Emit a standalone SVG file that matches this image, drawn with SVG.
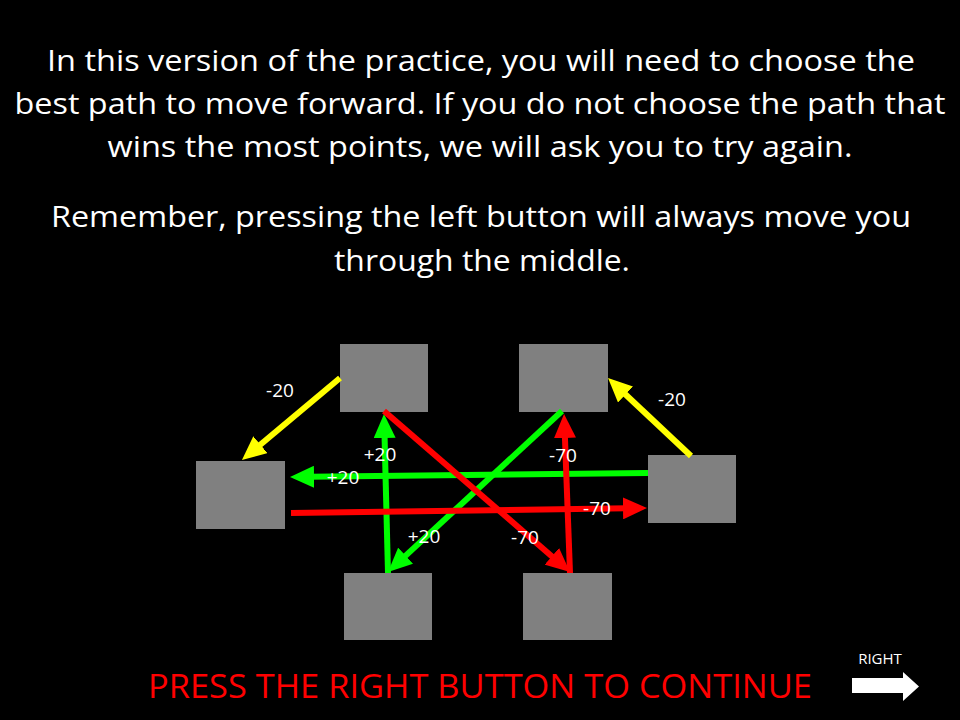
<svg xmlns="http://www.w3.org/2000/svg" width="960" height="720" viewBox="0 0 960 720">
<defs>
<style>
.h{font-family:"Open Sans","Liberation Sans",sans-serif;font-size:30px;fill:#fff;text-anchor:middle}
.lbl{font-family:"Open Sans","Liberation Sans",sans-serif;font-size:19px;fill:#fff;text-anchor:middle}
.box{fill:#808080}
.c{fill:none;stroke-width:6}
.y{stroke:#FFFF00}.g{stroke:#00FF00}.r{stroke:#FF0000}
</style>
<marker id="ay" markerUnits="userSpaceOnUse" markerWidth="24" markerHeight="22" refX="4" refY="11" orient="auto"><path d="M0,0 L24,11 L0,22 z" fill="#FFFF00"/></marker>
<marker id="ag" markerUnits="userSpaceOnUse" markerWidth="24" markerHeight="22" refX="4" refY="11" orient="auto"><path d="M0,0 L24,11 L0,22 z" fill="#00FF00"/></marker>
<marker id="ar" markerUnits="userSpaceOnUse" markerWidth="24" markerHeight="22" refX="4" refY="11" orient="auto"><path d="M0,0 L24,11 L0,22 z" fill="#FF0000"/></marker>
</defs>
<rect width="960" height="720" fill="#000"/>
<g id="heading">
<text class="h" x="481" y="71" textLength="868" lengthAdjust="spacingAndGlyphs">In this version of the practice, you will need to choose the</text>
<text class="h" x="480" y="114" textLength="931" lengthAdjust="spacingAndGlyphs">best path to move forward. If you do not choose the path that</text>
<text class="h" x="480" y="157" textLength="745" lengthAdjust="spacingAndGlyphs">wins the most points, we will ask you to try again.</text>
<text class="h" x="481" y="227" textLength="860" lengthAdjust="spacingAndGlyphs">Remember, pressing the left button will always move you</text>
<text class="h" x="482" y="271" textLength="296" lengthAdjust="spacingAndGlyphs">through the middle.</text>
</g>
<g id="node-top-left"><rect class="box" x="340" y="344" width="88" height="68"/></g>
<g id="node-top-right"><rect class="box" x="519" y="344" width="89" height="68"/></g>
<g id="node-left"><rect class="box" x="196" y="461" width="89" height="68"/></g>
<g id="node-right"><rect class="box" x="648" y="455" width="88" height="68"/></g>
<g id="node-bottom-left"><rect class="box" x="344" y="573" width="88" height="67"/></g>
<g id="node-bottom-right"><rect class="box" x="523" y="573" width="89" height="67"/></g>
<g id="connectors">
<line class="c y" x1="340" y1="378" x2="257.3" y2="447.2" marker-end="url(#ay)"/>
<line class="c y" x1="691" y1="456" x2="622.6" y2="391.7" marker-end="url(#ay)"/>
<line class="c g" x1="388" y1="573" x2="384.5" y2="434" marker-end="url(#ag)"/>
<line class="c g" x1="648" y1="473" x2="310" y2="476.8" marker-end="url(#ag)"/>
<line class="c g" x1="562" y1="411" x2="402.7" y2="558.4" marker-end="url(#ag)"/>
<line class="c r" x1="384" y1="411" x2="554.9" y2="558.9" marker-end="url(#ar)"/>
<line class="c r" x1="570" y1="573" x2="564.8" y2="434" marker-end="url(#ar)"/>
<line class="c r" x1="291" y1="513" x2="627" y2="508.3" marker-end="url(#ar)"/>
</g>
<g id="labels">
<text class="lbl" x="280" y="397">-20</text>
<text class="lbl" x="672" y="406">-20</text>
<text class="lbl" x="380" y="461">+20</text>
<text class="lbl" x="343" y="484">+20</text>
<text class="lbl" x="424" y="543">+20</text>
<text class="lbl" x="563" y="462">-70</text>
<text class="lbl" x="597" y="515">-70</text>
<text class="lbl" x="525" y="544">-70</text>
</g>
<g id="footer">
<text x="480" y="698" font-family="'Open Sans','Liberation Sans',sans-serif" font-size="33" fill="#FF0000" text-anchor="middle" textLength="664" lengthAdjust="spacingAndGlyphs">PRESS THE RIGHT BUTTON TO CONTINUE</text>
<text x="880" y="664" font-family="'Open Sans','Liberation Sans',sans-serif" font-size="15" fill="#fff" text-anchor="middle">RIGHT</text>
<polygon points="852,678 903,678 903,672 919,686.5 903,701 903,693 852,693" fill="#fff"/>
</g>
</svg>
